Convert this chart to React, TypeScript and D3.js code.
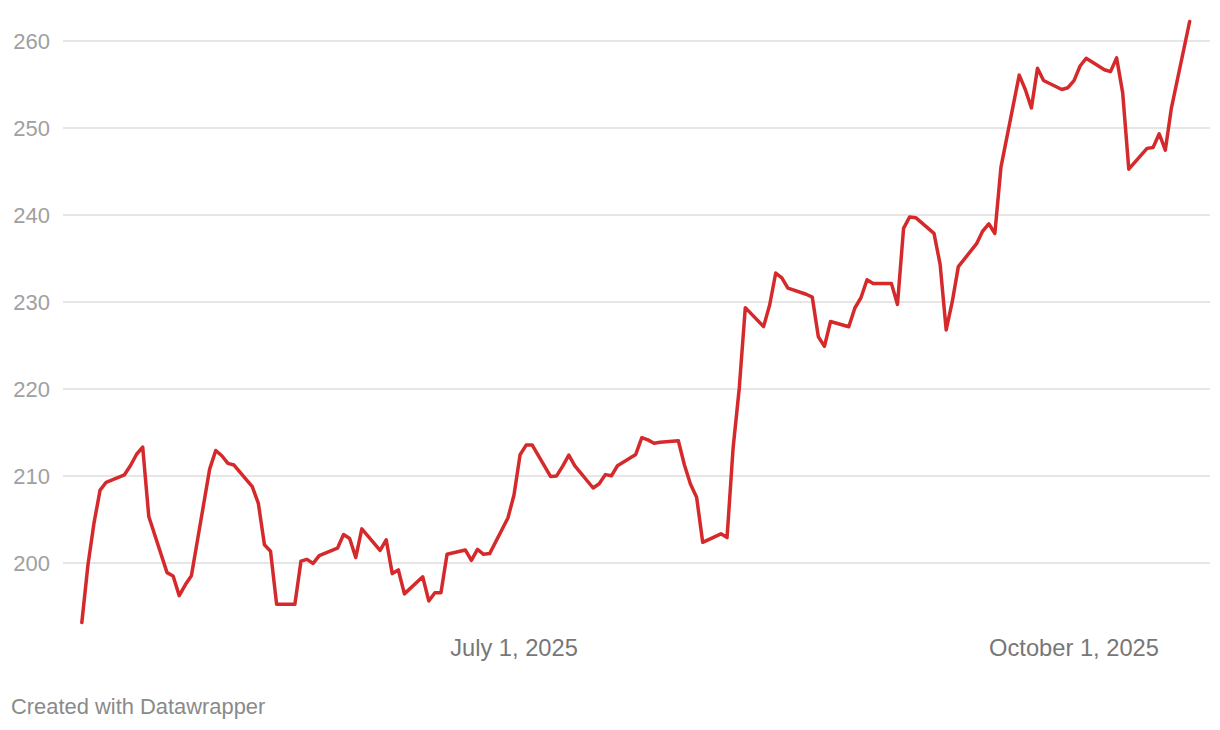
import React from "react";
import * as d3 from "d3";

const dates: string[] = [
  "2025-04-21","2025-04-22","2025-04-23","2025-04-24","2025-04-25","2025-04-28","2025-04-29","2025-04-30",
  "2025-05-01","2025-05-02","2025-05-05","2025-05-06","2025-05-07","2025-05-08","2025-05-09","2025-05-12",
  "2025-05-13","2025-05-14","2025-05-15","2025-05-16","2025-05-19","2025-05-20","2025-05-21","2025-05-22",
  "2025-05-23","2025-05-26","2025-05-27","2025-05-28","2025-05-29","2025-05-30","2025-06-02","2025-06-03",
  "2025-06-04","2025-06-05","2025-06-06","2025-06-09","2025-06-10","2025-06-11","2025-06-12","2025-06-13",
  "2025-06-16","2025-06-17","2025-06-18","2025-06-19","2025-06-20","2025-06-23","2025-06-24","2025-06-25",
  "2025-06-26","2025-06-27","2025-06-30","2025-07-01","2025-07-02","2025-07-03","2025-07-04","2025-07-07",
  "2025-07-08","2025-07-09","2025-07-10","2025-07-11","2025-07-14","2025-07-15","2025-07-16","2025-07-17",
  "2025-07-18","2025-07-21","2025-07-22","2025-07-23","2025-07-24","2025-07-25","2025-07-28","2025-07-29",
  "2025-07-30","2025-07-31","2025-08-01","2025-08-04","2025-08-05","2025-08-06","2025-08-07","2025-08-08",
  "2025-08-11","2025-08-12","2025-08-13","2025-08-14","2025-08-15","2025-08-18","2025-08-19","2025-08-20",
  "2025-08-21","2025-08-22","2025-08-25","2025-08-26","2025-08-27","2025-08-28","2025-08-29","2025-09-01",
  "2025-09-02","2025-09-03","2025-09-04","2025-09-05","2025-09-08","2025-09-09","2025-09-10","2025-09-11",
  "2025-09-12","2025-09-15","2025-09-16","2025-09-17","2025-09-18","2025-09-19","2025-09-22","2025-09-23",
  "2025-09-24","2025-09-25","2025-09-26","2025-09-29","2025-09-30","2025-10-01","2025-10-02","2025-10-03",
  "2025-10-06","2025-10-07","2025-10-08","2025-10-09","2025-10-10","2025-10-13","2025-10-14","2025-10-15",
  "2025-10-16","2025-10-17","2025-10-20",
];

const prices: number[] = [
  193.16,199.74,204.6,208.37,209.28,210.14,211.21,212.5,
  213.32,205.35,198.89,198.51,196.25,197.49,198.53,210.79,
  212.93,212.33,211.45,211.26,208.78,206.86,202.09,201.36,
  195.27,195.27,200.21,200.42,199.95,200.85,201.7,203.27,
  202.82,200.63,203.92,201.45,202.67,198.78,199.2,196.45,
  198.42,195.64,196.58,196.58,201.0,201.5,200.3,201.56,
  201.0,201.08,205.17,207.82,212.44,213.55,213.55,209.95,
  210.01,211.14,212.41,211.16,208.62,209.11,210.16,210.02,
  211.18,212.48,214.4,214.15,213.76,213.88,214.05,211.27,
  209.05,207.57,202.38,203.35,202.92,213.25,220.03,229.35,
  227.18,229.65,233.33,232.78,231.59,230.89,230.56,226.01,
  224.9,227.76,227.16,229.31,230.49,232.56,232.14,232.14,
  229.72,238.47,239.78,239.69,237.88,234.35,226.79,230.03,
  234.07,236.7,238.15,238.99,237.88,245.5,256.08,254.43,
  252.31,256.87,255.46,254.43,254.63,255.45,257.13,258.02,
  256.69,256.48,258.06,254.04,245.27,247.66,247.77,249.34,
  247.45,252.29,262.24,
];

const yTicks: number[] = [200, 210, 220, 230, 240, 250, 260];
const xTicks: string[] = ["2025-07-01", "2025-10-01"];
const xTickLabels: string[] = ["July 1, 2025", "October 1, 2025"];
const footer = "Created with Datawrapper";

const W = 1220;
const H = 730;
const FONT = "'Liberation Sans', Arial, Helvetica, sans-serif";

export default function App() {
  const parse = d3.utcParse("%Y-%m-%d");
  const data = dates.map((d, i) => ({ date: parse(d) as Date, value: prices[i] }));

  const x = d3
    .scaleUtc()
    .domain([parse("2025-07-01") as Date, parse("2025-10-01") as Date])
    .range([514, 1074]);
  const y = d3.scaleLinear().domain([200, 260]).range([563, 41]);

  const line = d3
    .line<{ date: Date; value: number }>()
    .x((d) => x(d.date))
    .y((d) => y(d.value))
    .curve(d3.curveLinear);

  return (
    <svg
      width={W}
      height={H}
      viewBox={`0 0 ${W} ${H}`}
      style={{ position: "absolute", left: 0, top: 0, background: "#fff" }}
      fontFamily={FONT}
    >
      <rect x={0} y={0} width={W} height={H} fill="#fff" />
      {yTicks.map((t) => (
        <g key={t}>
          <line x1={63} x2={1210} y1={y(t)} y2={y(t)} stroke="#dedede" strokeWidth={1.3} />
          <text
            x={50}
            y={y(t)}
            dy="0.35em"
            textAnchor="end"
            fontSize={22}
            fill="#a0a0a0"
          >
            {t}
          </text>
        </g>
      ))}
      <path
        d={line(data) || ""}
        fill="none"
        stroke="#d52a2c"
        strokeWidth={3.5}
        strokeLinejoin="round"
        strokeLinecap="round"
      />
      {xTicks.map((t, i) => (
        <text
          key={t}
          x={x(parse(t) as Date)}
          y={656}
          textAnchor="middle"
          fontSize={23.7}
          fill="#777"
        >
          {xTickLabels[i]}
        </text>
      ))}
      <text x={11} y={714} fontSize={21.9} fill="#8a8a8a">
        {footer}
      </text>
    </svg>
  );
}
